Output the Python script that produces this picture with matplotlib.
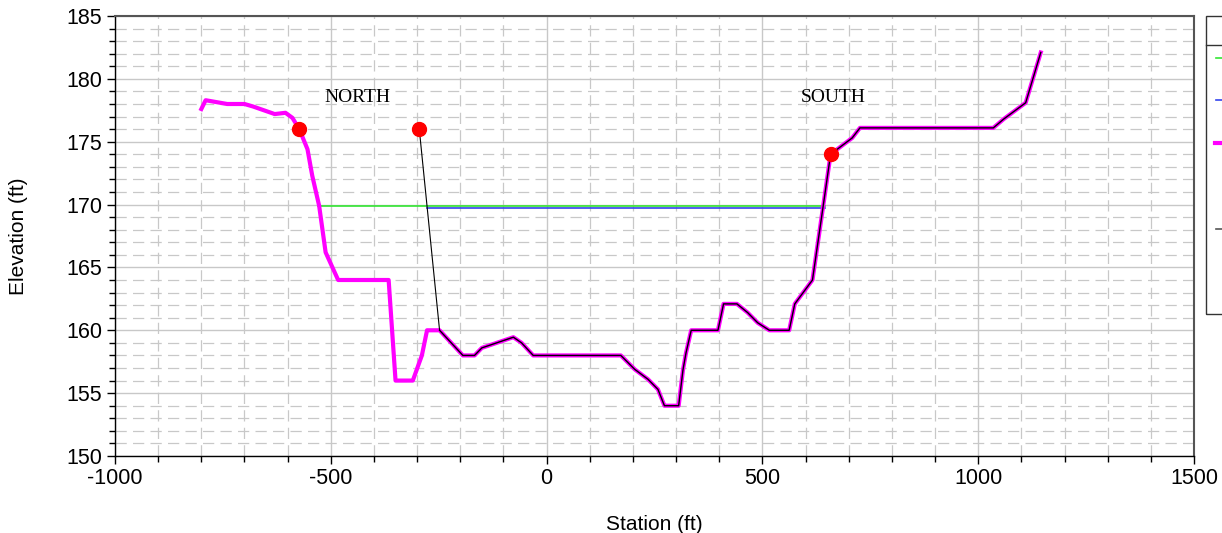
import matplotlib
matplotlib.use("Agg")
import matplotlib.pyplot as plt
from matplotlib.lines import Line2D
from matplotlib.patches import Rectangle
from matplotlib.ticker import MultipleLocator

plt.rcParams['font.family'] = ['Liberation Sans', 'DejaVu Sans']
plt.rcParams['axes.unicode_minus'] = False

# Ground profile
ground_x = [-800, -790, -740, -700, -680, -630, -605, -589, -573, -554, -543, -527, -512, -483,
            -366, -350, -310, -289, -277, -248, -194, -167, -150, -77, -58, -31, 172, 204, 235,
            258, 273, 306, 316, 323, 335, 397, 410, 441, 466, 489, 516, 562, 575, 616, 643, 658,
            708, 726, 1035, 1059, 1110, 1145]
ground_y = [177.6, 178.3, 178.0, 178.0, 177.8, 177.2, 177.3, 176.9, 176.0, 174.4, 172.3, 169.9,
            166.2, 164.0, 164.0, 156.0, 156.0, 158.0, 160.0, 160.0, 158.0, 158.0, 158.6, 159.45,
            159.0, 158.0, 158.0, 156.9, 156.1, 155.3, 154.0, 154.0, 156.85, 158.2, 160.0, 160.0,
            162.1, 162.1, 161.4, 160.6, 160.0, 160.0, 162.1, 164.0, 170.4, 174.0, 175.3, 176.1,
            176.1, 176.8, 178.1, 182.1]

# Water surfaces
ws_green_x = [-530, 645]
ws_green_y = [169.85, 169.85]
ws_blue_x = [-277, 645]
ws_blue_y = [169.75, 169.75]

# Bank stations / markers
bank_x = [-573, -295, 658]
bank_y = [176.0, 176.0, 174.0]

# Levee line
levee_x = [-295, -248]
levee_y = [176.0, 160.0]
overlay_start = -248

labels_text = ["NORTH", "SOUTH"]
labels_x = [-439, 665]
labels_y = [178.5, 178.5]

fig = plt.figure(figsize=(12.22, 5.33), dpi=100)
ax = fig.add_axes([115/1222, 1-456/533, (1194-115)/1222, (456-16)/533])

ax.set_xlim(-1000, 1500)
ax.set_ylim(150, 185)
ax.xaxis.set_major_locator(MultipleLocator(500))
ax.xaxis.set_minor_locator(MultipleLocator(100))
ax.yaxis.set_major_locator(MultipleLocator(5))
ax.yaxis.set_minor_locator(MultipleLocator(1))

ax.grid(which='major', color='#c8c8c8', lw=1.0, ls='-', zorder=0)
ax.grid(which='minor', color='#c8c8c8', lw=0.9, ls=(0, (9, 5)), zorder=0)
ax.set_axisbelow(True)

ax.tick_params(which='major', length=6, width=1, labelsize=15.5, pad=3, direction='out')
ax.tick_params(which='minor', length=4, width=1, direction='out')

for s in ['left', 'bottom']:
    ax.spines[s].set_color('black')
    ax.spines[s].set_linewidth(1.0)
for s in ['top', 'right']:
    ax.spines[s].set_color('#555555')
    ax.spines[s].set_linewidth(1.5)

ax.set_xlabel('Station (ft)', fontsize=15, labelpad=18)
ax.set_ylabel('Elevation (ft)', fontsize=15, labelpad=28)

# water surfaces
ax.plot(ws_green_x, ws_green_y, color='#33e633', lw=1.2, zorder=3)
ax.plot(ws_blue_x, ws_blue_y, color='#3344ee', lw=1.2, zorder=3)

# ground
ax.plot(ground_x, ground_y, color='#ff00ff', lw=3.0, zorder=4, solid_joinstyle='round')
ov_x = [x for x in ground_x if x >= overlay_start]
ov_y = [y for x, y in zip(ground_x, ground_y) if x >= overlay_start]
ax.plot(ov_x, ov_y, color='black', lw=1.0, zorder=5)

# levee line
ax.plot(levee_x, levee_y, color='black', lw=0.8, zorder=5)

# bank markers
ax.plot(bank_x, bank_y, 'o', color='#ff0000', ms=10, mec='#ff0000', zorder=6, ls='none')

for t, x, y in zip(labels_text, labels_x, labels_y):
    ax.text(x, y, t, ha='center', va='center', fontsize=14, fontweight='light',
            family=['Liberation Serif', 'DejaVu Serif'], zorder=7)

# clipped legend box at right edge
W, H = 1222, 533
def fx(px):
    return px / W
def fy(py):
    return 1 - py / H
fig.add_artist(Rectangle((fx(1206), fy(314)), fx(60), fy(16) - fy(314),
                         transform=fig.transFigure, fill=False, edgecolor='#333333', lw=1.0))
fig.add_artist(Line2D([fx(1206), fx(1222)], [fy(45), fy(45)], transform=fig.transFigure,
                      color='#333333', lw=1.0))
fig.add_artist(Line2D([fx(1216), fx(1222)], [fy(58), fy(58)], transform=fig.transFigure,
                      color='#33e633', lw=1.2))
fig.add_artist(Line2D([fx(1216), fx(1222)], [fy(100), fy(100)], transform=fig.transFigure,
                      color='#3344ee', lw=1.2))
fig.add_artist(Line2D([fx(1215), fx(1222)], [fy(143), fy(143)], transform=fig.transFigure,
                      color='#ff00ff', lw=3.0))
fig.add_artist(Line2D([fx(1216), fx(1222)], [fy(229), fy(229)], transform=fig.transFigure,
                      color='#555555', lw=1.2))

fig.savefig('out.png', dpi=100)
